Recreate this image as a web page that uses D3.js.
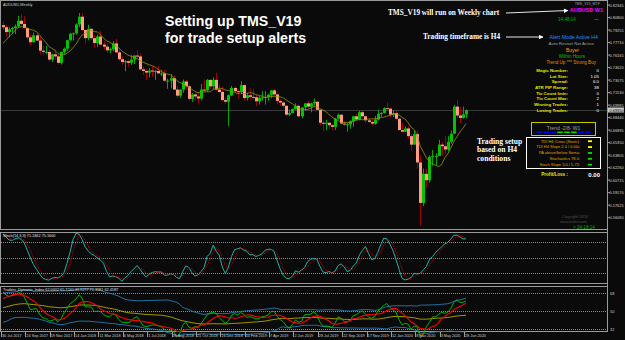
<!DOCTYPE html>
<html>
<head>
<meta charset="utf-8">
<title>AUDUSD Weekly - TMS_V19</title>
<script src="https://cdn.jsdelivr.net/npm/d3@7"></script>
<style>
  body { margin: 0; background: #0a0a0a; }
  svg { display: block; }
  text { font-family: "Liberation Sans", Arial, sans-serif; }
  .serif { font-family: "Liberation Serif", "Times New Roman", serif; font-weight: bold; fill: #fff; }
</style>
</head>
<body>
<svg id="chart" width="625" height="340"></svg>
<script>

// AUDUSD weekly bars, one per week from 30 Jul 2017 to 28 Jun 2020
var firstWeek = new Date(2017, 6, 30);

var closes = [
  0.7960, 0.7900, 0.7935, 0.7950, 0.7970, 0.8040, 0.8000, 0.7950, 0.7835, 0.7775,
  0.7860, 0.7795, 0.7670, 0.7655, 0.7655, 0.7560, 0.7625, 0.7600, 0.7520, 0.7655,
  0.7695, 0.7800, 0.7880, 0.7885, 0.7995, 0.8090, 0.7925, 0.7825, 0.7940, 0.7825,
  0.7765, 0.7845, 0.7745, 0.7720, 0.7675, 0.7690, 0.7760, 0.7650, 0.7565, 0.7530,
  0.7540, 0.7520, 0.7560, 0.7610, 0.7600, 0.7440, 0.7420, 0.7400, 0.7425, 0.7420,
  0.7420, 0.7390, 0.7390, 0.7300, 0.7300, 0.7330, 0.7190, 0.7115, 0.7190, 0.7290,
  0.7230, 0.7075, 0.7130, 0.7105, 0.7080, 0.7190, 0.7180, 0.7310, 0.7230, 0.7310,
  0.7190, 0.7160, 0.7060, 0.7040, 0.7120, 0.7210, 0.7170, 0.7160, 0.7245, 0.7085,
  0.7120, 0.7100, 0.7095, 0.7045, 0.7090, 0.7095, 0.7100, 0.7125, 0.7180, 0.7130,
  0.7050, 0.7030, 0.6990, 0.6880, 0.6900, 0.6950, 0.6990, 0.6860, 0.6970, 0.7020,
  0.6980, 0.7020, 0.7040, 0.6940, 0.6780, 0.6770, 0.6780, 0.6750, 0.6730, 0.6830,
  0.6880, 0.6770, 0.6760, 0.6760, 0.6800, 0.6860, 0.6820, 0.6910, 0.6860, 0.6810,
  0.6790, 0.6770, 0.6820, 0.6890, 0.6900, 0.6960, 0.6955, 0.6880, 0.6900, 0.6830,
  0.6690, 0.6670, 0.6710, 0.6615, 0.6510, 0.6640, 0.6290, 0.5790, 0.6150, 0.6070,
  0.6360, 0.6370, 0.6370, 0.6510, 0.6490, 0.6450, 0.6545, 0.6645, 0.6980, 0.6870,
  0.6840, 0.6885, 0.6935
];

var highs = [
  0.8030, 0.7990, 0.7960, 0.7965, 0.7995, 0.8100, 0.8125, 0.8100, 0.7960, 0.7870,
  0.7895, 0.7885, 0.7845, 0.7730, 0.7730, 0.7685, 0.7635, 0.7675, 0.7620, 0.7660,
  0.7710, 0.7805, 0.7890, 0.7895, 0.8005, 0.8136, 0.8135, 0.7935, 0.7990, 0.7950,
  0.7865, 0.7870, 0.7915, 0.7790, 0.7760, 0.7710, 0.7790, 0.7815, 0.7690, 0.7600,
  0.7555, 0.7560, 0.7615, 0.7615, 0.7675, 0.7635, 0.7475, 0.7445, 0.7455, 0.7485,
  0.7435, 0.7485, 0.7435, 0.7435, 0.7325, 0.7380, 0.7365, 0.7235, 0.7195, 0.7315,
  0.7310, 0.7250, 0.7150, 0.7150, 0.7160, 0.7260, 0.7315, 0.7320, 0.7310, 0.7340,
  0.7395, 0.7250, 0.7230, 0.7090, 0.7130, 0.7235, 0.7230, 0.7195, 0.7295, 0.7255,
  0.7145, 0.7205, 0.7200, 0.7120, 0.7110, 0.7170, 0.7170, 0.7140, 0.7185, 0.7205,
  0.7155, 0.7070, 0.7045, 0.6995, 0.6940, 0.6955, 0.7020, 0.6995, 0.6975, 0.7025,
  0.7050, 0.7030, 0.7080, 0.7045, 0.6945, 0.6810, 0.6815, 0.6790, 0.6760, 0.6840,
  0.6895, 0.6880, 0.6805, 0.6780, 0.6810, 0.6865, 0.6890, 0.6930, 0.6930, 0.6870,
  0.6840, 0.6815, 0.6865, 0.6940, 0.6915, 0.6970, 0.7030, 0.6965, 0.6935, 0.6925,
  0.6840, 0.6775, 0.6735, 0.6735, 0.6640, 0.6685, 0.6685, 0.6380, 0.6215, 0.6215,
  0.6375, 0.6445, 0.6405, 0.6570, 0.6545, 0.6615, 0.6615, 0.6685, 0.7000, 0.7065,
  0.6975, 0.6980, 0.6945
];

var lows = [
  0.7925, 0.7845, 0.7835, 0.7880, 0.7875, 0.7950, 0.7980, 0.7940, 0.7810, 0.7735,
  0.7770, 0.7780, 0.7625, 0.7625, 0.7625, 0.7530, 0.7530, 0.7560, 0.7500, 0.7500,
  0.7620, 0.7665, 0.7790, 0.7795, 0.7870, 0.7960, 0.7915, 0.7760, 0.7800, 0.7800,
  0.7710, 0.7715, 0.7740, 0.7680, 0.7645, 0.7640, 0.7660, 0.7640, 0.7545, 0.7500,
  0.7415, 0.7475, 0.7495, 0.7505, 0.7575, 0.7430, 0.7370, 0.7310, 0.7340, 0.7350,
  0.7310, 0.7380, 0.7355, 0.7290, 0.7200, 0.7205, 0.7185, 0.7085, 0.7085, 0.7150,
  0.7200, 0.7050, 0.7040, 0.7050, 0.7020, 0.7055, 0.7160, 0.7165, 0.7200, 0.7195,
  0.7175, 0.7150, 0.7045, 0.7015, 0.6740, 0.7110, 0.7150, 0.7080, 0.7135, 0.7055,
  0.7055, 0.7070, 0.7070, 0.6985, 0.7005, 0.7055, 0.7005, 0.7050, 0.7085, 0.7110,
  0.7010, 0.6990, 0.6960, 0.6865, 0.6865, 0.6900, 0.6940, 0.6850, 0.6835, 0.6930,
  0.6960, 0.6910, 0.6990, 0.6920, 0.6750, 0.6675, 0.6690, 0.6700, 0.6690, 0.6690,
  0.6820, 0.6755, 0.6740, 0.6670, 0.6705, 0.6730, 0.6810, 0.6810, 0.6850, 0.6775,
  0.6780, 0.6755, 0.6755, 0.6810, 0.6855, 0.6895, 0.6950, 0.6850, 0.6850, 0.6815,
  0.6685, 0.6660, 0.6665, 0.6585, 0.6435, 0.6510, 0.6215, 0.5506, 0.5750, 0.5980,
  0.6040, 0.6250, 0.6255, 0.6370, 0.6370, 0.6400, 0.6430, 0.6520, 0.6640, 0.6830,
  0.6775, 0.6830, 0.6835
];

// weekly closes before the first bar, only used to warm up the indicators
var priorCloses = [
  0.7370, 0.7390, 0.7430, 0.7460, 0.7500, 0.7610, 0.7480, 0.7600, 0.7610, 0.7660,
  0.7660, 0.7570, 0.7520, 0.7520, 0.7480, 0.7630, 0.7650, 0.7580, 0.7630, 0.7600,
  0.7610, 0.7670, 0.7570, 0.7370, 0.7400, 0.7440, 0.7470, 0.7330, 0.7230, 0.7210,
  0.7300, 0.7470, 0.7550, 0.7550, 0.7670, 0.7670, 0.7670, 0.7700, 0.7590, 0.7570,
  0.7715, 0.7630, 0.7640, 0.7500, 0.7575, 0.7550, 0.7470, 0.7380, 0.7380, 0.7455,
  0.7430, 0.7455, 0.7545, 0.7605, 0.7560, 0.7685, 0.7610, 0.7770, 0.7920, 0.7985
];

var lastPrice = 0.6935;

// axis labels
var priceTicks = [0.82345, 0.80800, 0.79255, 0.77710, 0.76165, 0.74620, 0.73075, 0.71530,
  0.69985, 0.68440, 0.66895, 0.65350, 0.63805, 0.62260, 0.60715, 0.59170, 0.57625, 0.56080];
var dateLabels = ["30 Jul 2017", "24 Sep 2017", "19 Nov 2017", "14 Jan 2018", "11 Mar 2018",
  "6 May 2018", "1 Jul 2018", "26 Aug 2018", "21 Oct 2018", "16 Dec 2018", "10 Feb 2019",
  "7 Apr 2019", "2 Jun 2019", "28 Jul 2019", "22 Sep 2019", "17 Nov 2019", "12 Jan 2020",
  "8 Mar 2020", "3 May 2020", "28 Jun 2020"];
var stochLevels = [80, 50, 20];
var tdiLevels = [68, 50, 32];

// info panel of the expert advisor
var statLabels = ["Magic Number:", "Lot Size:", "Spread:", "ATR PIP Range:",
  "Tic Count Imin:", "Tic Count Max:", "Winning Trades:", "Losing Trades:"];
var statValues = ["0", "1.05", "6.0", "38", "0", "2", "1", "0"];
var setupLabels = ["TDI H4 Cross (Static):", "TDI H4 Slope 2.0 / 0.00c", "PA above/below Sema:",
  "Stochastics 78.0:", "Stoch Slope 3.0 / 5.72:"];
var setupColors = ["#ffff00", "#ffff00", "#00e000", "#00e000", "#00e000"];
var trendColors = ["#0000ff", "#0000ff", "#0000ff", "#00e000", "#00e000", "#00e000", "#0000ff", "#0000ff"];


function drawChart() {

    var width = 625,
        height = 340,
        plotRight = 607;

    var svg = d3.select("#chart");

    svg.append("rect")
        .attr("width", width)
        .attr("height", height)
        .attr("fill", "#0a0a0a");

    // join the warm-up closes with the visible bars
    var all = priorCloses.concat(closes),
        allHigh = priorCloses.concat(highs),
        allLow = priorCloses.concat(lows),
        n0 = priorCloses.length;

    function windowOf(arr, i, len) {
        return arr.slice(Math.max(0, i - len + 1), i + 1);
    }

    var bars = closes.map(function(c, i) {
        return {
            date: d3.timeWeek.offset(firstWeek, i),
            open: all[n0 + i - 1],
            high: highs[i],
            low: lows[i],
            close: c
        };
    });

    // indicators, worked out from the bars like the terminal does
    var maLine = bars.map(function(d, i) {
        return { date: d.date, v: d3.mean(windowOf(all, n0 + i, 8)) };
    });

    var kRaw = all.map(function(c, i) {
        var hh = d3.max(windowOf(allHigh, i, 14)),
            ll = d3.min(windowOf(allLow, i, 14));
        return { num: c - ll, den: hh - ll };
    });
    var stochMain = all.map(function(c, i) {
        var w = windowOf(kRaw, i, 3);
        return 100 * d3.sum(w, function(d) { return d.num; }) / d3.sum(w, function(d) { return d.den; });
    });
    var stochSignal = all.map(function(c, i) { return d3.mean(windowOf(stochMain, i, 3)); });

    var rsi = [50], ag = 0, al = 0;
    for (var i = 1; i < all.length; i++) {
        var ch = all[i] - all[i - 1],
            g = Math.max(ch, 0),
            l = Math.max(-ch, 0);
        if (i <= 13) { ag += g / 13; al += l / 13; }
        else { ag = (ag * 12 + g) / 13; al = (al * 12 + l) / 13; }
        rsi.push(al === 0 ? 100 : 100 - 100 / (1 + ag / al));
    }

    var tdi = bars.map(function(d, i) {
        var j = n0 + i,
            w = windowOf(rsi, j, 34),
            base = d3.mean(w),
            dev = d3.deviation(w);
        return {
            date: d.date,
            up: base + 1.6185 * dev,
            dn: base - 1.6185 * dev,
            base: base,
            price: d3.mean(windowOf(rsi, j, 2)),
            signal: d3.mean(windowOf(rsi, j, 7))
        };
    });

    var stoch = bars.map(function(d, i) {
        return { date: d.date, main: stochMain[n0 + i], signal: stochSignal[n0 + i] };
    });

    // scales
    var x = d3.scaleTime()
        .domain([firstWeek, bars[bars.length - 1].date])
        .range([3, 466]);

    var y = d3.scaleLinear()
        .domain([0.82345, 0.54805])
        .range([5, 228]);

    var yStoch = d3.scaleLinear()
        .domain([0, 100])
        .range([283, 232]);

    var yTdi = d3.scaleLinear()
        .domain([30, 75])
        .range([331, 286]);

    // panel frames
    var frames = [[0, 229], [232, 283], [286, 331]];
    svg.selectAll("rect.frame")
        .data(frames).enter()
        .append("rect")
        .attr("class", "frame")
        .attr("x", 0.5)
        .attr("y", function(d) { return d[0] + 0.5; })
        .attr("width", plotRight)
        .attr("height", function(d) { return d[1] - d[0]; })
        .attr("fill", "none")
        .attr("stroke", "#9a9a9a")
        .attr("stroke-width", 1);

    // current price line
    svg.append("line")
        .attr("x1", 1).attr("x2", plotRight)
        .attr("y1", Math.round(y(lastPrice)) + 0.5)
        .attr("y2", Math.round(y(lastPrice)) + 0.5)
        .attr("stroke", "#3a3a3a");

    // candles
    var main = svg.append("g");

    main.selectAll("line.wick")
        .data(bars).enter()
        .append("line")
        .attr("class", "wick")
        .attr("x1", function(d) { return Math.round(x(d.date)) + 0.5; })
        .attr("x2", function(d) { return Math.round(x(d.date)) + 0.5; })
        .attr("y1", function(d) { return y(d.high); })
        .attr("y2", function(d) { return y(d.low); })
        .attr("stroke", function(d) { return d.close >= d.open ? "#00a800" : "#a00000"; })
        .attr("stroke-width", 1);

    main.selectAll("rect.body")
        .data(bars).enter()
        .append("rect")
        .attr("class", "body")
        .attr("x", function(d) { return Math.round(x(d.date)) - 1; })
        .attr("width", 3)
        .attr("y", function(d) { return y(Math.max(d.open, d.close)); })
        .attr("height", function(d) { return Math.max(1, Math.abs(y(d.open) - y(d.close))); })
        .attr("fill", function(d) { return d.close >= d.open ? "#00c400" : "#ff9c84"; });

    var maPath = d3.line()
        .x(function(d) { return x(d.date); })
        .y(function(d) { return y(d.v); });

    main.append("path")
        .datum(maLine)
        .attr("d", maPath)
        .attr("fill", "none")
        .attr("stroke", "#9c9400")
        .attr("stroke-width", 0.8);

    // right price axis
    svg.append("line")
        .attr("x1", plotRight + 0.5).attr("x2", plotRight + 0.5)
        .attr("y1", 0).attr("y2", 332)
        .attr("stroke", "#9a9a9a");

    var ticks = svg.append("g");
    ticks.selectAll("line")
        .data(priceTicks).enter()
        .append("line")
        .attr("x1", plotRight).attr("x2", plotRight + 3)
        .attr("y1", function(d) { return y(d); })
        .attr("y2", function(d) { return y(d); })
        .attr("stroke", "#9a9a9a");
    ticks.selectAll("text")
        .data(priceTicks).enter()
        .append("text")
        .attr("x", plotRight + 2.5)
        .attr("y", function(d) { return y(d) + 1.5; })
        .attr("font-size", 3.9)
        .attr("fill", "#d0d0d0")
        .text(function(d) { return d.toFixed(5); });

    var lp = Math.round(y(lastPrice));
    svg.append("rect")
        .attr("x", plotRight + 1).attr("y", lp - 2.5)
        .attr("width", 16).attr("height", 5)
        .attr("fill", "#c8c8c8");
    svg.append("text")
        .attr("x", plotRight + 2.5).attr("y", lp + 1.5)
        .attr("font-size", 3.9)
        .attr("fill", "#000")
        .text(lastPrice.toFixed(5));

    // stochastic window
    svg.selectAll("line.slevel")
        .data(stochLevels).enter()
        .append("line")
        .attr("class", "slevel")
        .attr("x1", 1).attr("x2", plotRight)
        .attr("y1", function(d) { return Math.round(yStoch(d)) + 0.5; })
        .attr("y2", function(d) { return Math.round(yStoch(d)) + 0.5; })
        .attr("stroke", "#8a8a8a")
        .attr("stroke-dasharray", "1,1");

    svg.append("path")
        .datum(stoch)
        .attr("d", d3.line().x(function(d) { return x(d.date); }).y(function(d) { return yStoch(d.main); }))
        .attr("fill", "none")
        .attr("stroke", "#20b2aa")
        .attr("stroke-width", 1);

    svg.append("path")
        .datum(stoch)
        .attr("d", d3.line().x(function(d) { return x(d.date); }).y(function(d) { return yStoch(d.signal); }))
        .attr("fill", "none")
        .attr("stroke", "#e00000")
        .attr("stroke-width", 0.9)
        .attr("stroke-dasharray", "1,1");

    svg.append("text")
        .attr("x", 3).attr("y", 237)
        .attr("font-size", 3.8)
        .attr("fill", "#e0e0e0")
        .text("Stoch(14,3,3) 71.2462 75.1600");

    // traders dynamic index window
    svg.selectAll("line.tlevel")
        .data(tdiLevels).enter()
        .append("line")
        .attr("class", "tlevel")
        .attr("x1", 1).attr("x2", plotRight)
        .attr("y1", function(d) { return Math.round(yTdi(d)) + 0.5; })
        .attr("y2", function(d) { return Math.round(yTdi(d)) + 0.5; })
        .attr("stroke", "#8a8a8a")
        .attr("stroke-dasharray", "1,1");

    var tdiSeries = [
        ["up", "#1f7fb8", 0.9], ["dn", "#1f7fb8", 0.9], ["base", "#b8a800", 0.9],
        ["price", "#00c800", 0.9], ["signal", "#ff0000", 1.1]
    ];
    tdiSeries.forEach(function(s) {
        svg.append("path")
            .datum(tdi)
            .attr("d", d3.line().x(function(d) { return x(d.date); }).y(function(d) { return yTdi(d[s[0]]); }))
            .attr("fill", "none")
            .attr("stroke", s[1])
            .attr("stroke-width", s[2]);
    });

    svg.append("text")
        .attr("x", 3).attr("y", 290.5)
        .attr("font-size", 3.8)
        .attr("fill", "#e0e0e0")
        .text("Traders_Dynamic_Index 62.0002 65.7240 39.9277 71.3181 62.4187");

    svg.selectAll("text.tlab")
        .data(tdiLevels).enter()
        .append("text")
        .attr("class", "tlab")
        .attr("x", plotRight + 3)
        .attr("y", function(d) { return yTdi(d) + 1.5; })
        .attr("font-size", 3.9)
        .attr("fill", "#d0d0d0")
        .text(function(d) { return d; });

    // date axis
    var parseDate = d3.timeParse("%d %b %Y");
    var dates = svg.append("g");
    dates.selectAll("line")
        .data(dateLabels).enter()
        .append("line")
        .attr("x1", function(d) { return Math.round(x(parseDate(d))) - 1.5; })
        .attr("x2", function(d) { return Math.round(x(parseDate(d))) - 1.5; })
        .attr("y1", 332).attr("y2", 337)
        .attr("stroke", "#9a9a9a");
    dates.selectAll("text")
        .data(dateLabels).enter()
        .append("text")
        .attr("x", function(d) { return x(parseDate(d)) - 1; })
        .attr("y", 337)
        .attr("font-size", 3.8)
        .attr("fill", "#d0d0d0")
        .text(function(d) { return d; });

    drawOverlay(svg);
}


function drawOverlay(svg) {

    svg.append("text")
        .attr("x", 3).attr("y", 6)
        .attr("font-size", 3.8)
        .attr("fill", "#d0d0d0")
        .text("AUDUSD,Weekly");

    // headline
    svg.append("text")
        .attr("x", 165).attr("y", 26)
        .attr("font-size", 14.2)
        .attr("font-weight", "bold")
        .attr("fill", "#fff")
        .text("Setting up TMS_V19");
    svg.append("text")
        .attr("x", 165).attr("y", 43)
        .attr("font-size", 14.2)
        .attr("font-weight", "bold")
        .attr("fill", "#fff")
        .text("for trade setup alerts");

    // notes with arrows
    var defs = svg.append("defs");
    defs.append("marker")
        .attr("id", "head")
        .attr("viewBox", "0 0 10 10")
        .attr("refX", 9).attr("refY", 5)
        .attr("markerWidth", 6).attr("markerHeight", 5)
        .attr("orient", "auto")
        .append("path")
        .attr("d", "M0,0 L10,5 L0,10 z")
        .attr("fill", "#fff");

    svg.append("text").attr("class", "serif")
        .attr("x", 388).attr("y", 15)
        .attr("font-size", 7.3)
        .text("TMS_V19 will run on Weekly chart");
    svg.append("line")
        .attr("x1", 506).attr("y1", 13).attr("x2", 568).attr("y2", 10.5)
        .attr("stroke", "#fff").attr("stroke-width", 0.9)
        .attr("marker-end", "url(#head)");

    svg.append("text").attr("class", "serif")
        .attr("x", 423).attr("y", 39)
        .attr("font-size", 7.3)
        .text("Trading timeframe is H4");
    svg.append("line")
        .attr("x1", 506).attr("y1", 37).attr("x2", 543).attr("y2", 37)
        .attr("stroke", "#fff").attr("stroke-width", 0.9)
        .attr("marker-end", "url(#head)");

    svg.append("text").attr("class", "serif")
        .attr("x", 477).attr("y", 143.5)
        .attr("font-size", 7.6)
        .text("Trading setup");
    svg.append("text").attr("class", "serif")
        .attr("x", 477).attr("y", 152)
        .attr("font-size", 7.6)
        .text("based on H4");
    svg.append("text").attr("class", "serif")
        .attr("x", 477).attr("y", 160.5)
        .attr("font-size", 7.6)
        .text("conditions");

    // status block, right aligned on the chart
    var status = [
        ["TMS_V19_MTF", 5, "#a0a0a0", 3.6, "normal", 600],
        ["AUDUSD W1", 12, "#ff00ff", 5.5, "bold", 603],
        ["Alert Mode Active H4", 39, "#1e90ff", 5.2, "normal", 598],
        ["Auto Restart Not Active", 45, "#a0a0a0", 4.4, "normal", 594],
        ["Buyer", 52, "#ff9900", 5, "normal", 579],
        ["Within Hours", 58, "#00c000", 4.6, "normal", 585],
        ["Trend Up *** Strong Buy", 64, "#e09000", 4.6, "normal", 596]
    ];
    svg.selectAll("text.status")
        .data(status).enter()
        .append("text")
        .attr("class", "status")
        .attr("x", function(d) { return d[5]; })
        .attr("y", function(d) { return d[1]; })
        .attr("text-anchor", "end")
        .attr("font-size", function(d) { return d[3]; })
        .attr("font-weight", function(d) { return d[4]; })
        .attr("fill", function(d) { return d[2]; })
        .text(function(d) { return d[0]; });

    svg.append("text")
        .attr("x", 558).attr("y", 21)
        .attr("font-size", 4.6)
        .attr("fill", "#00b000")
        .text("14:48:14");
    svg.append("text")
        .attr("x", 594).attr("y", 21)
        .attr("font-size", 4.6)
        .attr("fill", "#c8c800")
        .text("---");

    // statistics
    var rowY = d3.scaleLinear().domain([0, statLabels.length - 1]).range([72, 111.5]);
    svg.selectAll("text.slabel")
        .data(statLabels).enter()
        .append("text")
        .attr("class", "slabel")
        .attr("x", 568)
        .attr("y", function(d, i) { return rowY(i); })
        .attr("text-anchor", "end")
        .attr("font-size", 4.4)
        .attr("font-weight", "bold")
        .attr("fill", "#e8e800")
        .text(function(d) { return d; });
    svg.selectAll("text.svalue")
        .data(statValues).enter()
        .append("text")
        .attr("class", "svalue")
        .attr("x", 599)
        .attr("y", function(d, i) { return rowY(i); })
        .attr("text-anchor", "end")
        .attr("font-size", 4.4)
        .attr("fill", "#fff")
        .text(function(d) { return d; });

    // trend box
    svg.append("rect")
        .attr("x", 531.5).attr("y", 122.5)
        .attr("width", 64).attr("height", 13)
        .attr("fill", "#0a0a0a")
        .attr("stroke", "#c8c800");
    svg.append("text")
        .attr("x", 563.5).attr("y", 129.5)
        .attr("text-anchor", "middle")
        .attr("font-size", 5)
        .attr("fill", "#a0a0a0")
        .text("Trend -2/8- W1");
    var seg = d3.scaleBand().domain(d3.range(trendColors.length)).range([535, 592]).padding(0.2);
    svg.selectAll("rect.seg")
        .data(trendColors).enter()
        .append("rect")
        .attr("class", "seg")
        .attr("x", function(d, i) { return seg(i); })
        .attr("y", 131.5)
        .attr("width", seg.bandwidth())
        .attr("height", 1.6)
        .attr("fill", function(d) { return d; });

    // setup box
    svg.append("rect")
        .attr("x", 526.5).attr("y", 137.5)
        .attr("width", 74).attr("height", 31)
        .attr("fill", "#0a0a0a")
        .attr("stroke", "#fff");
    var setY = d3.scaleLinear().domain([0, setupLabels.length - 1]).range([142.5, 166]);
    svg.selectAll("text.setup")
        .data(setupLabels).enter()
        .append("text")
        .attr("class", "setup")
        .attr("x", 580)
        .attr("y", function(d, i) { return setY(i); })
        .attr("text-anchor", "end")
        .attr("font-size", 4)
        .attr("fill", "#e0a000")
        .text(function(d) { return d; });
    svg.selectAll("rect.flag")
        .data(setupColors).enter()
        .append("rect")
        .attr("class", "flag")
        .attr("x", 588)
        .attr("y", function(d, i) { return setY(i) - 2.2; })
        .attr("width", 4).attr("height", 1.8)
        .attr("fill", function(d) { return d; });

    svg.append("text")
        .attr("x", 568).attr("y", 176)
        .attr("text-anchor", "end")
        .attr("font-size", 4.6)
        .attr("font-weight", "bold")
        .attr("fill", "#e8e800")
        .text("Profit/Loss :");
    svg.append("text")
        .attr("x", 600).attr("y", 176.5)
        .attr("text-anchor", "end")
        .attr("font-size", 6)
        .attr("font-weight", "bold")
        .attr("fill", "#fff")
        .text("0.00");

    // copyright and timer at the bottom corner
    svg.append("text")
        .attr("x", 562).attr("y", 218)
        .attr("font-size", 3.6)
        .attr("font-style", "italic")
        .attr("fill", "#505050")
        .text("Copyright\u00a92016");
    svg.append("text")
        .attr("x", 560).attr("y", 223)
        .attr("font-size", 3.6)
        .attr("font-style", "italic")
        .attr("fill", "#505050")
        .text("www.traderr.com");
    svg.append("text")
        .attr("x", 573).attr("y", 228.5)
        .attr("font-size", 4.6)
        .attr("fill", "#00b000")
        .text("> 24:18:14");
}

drawChart();
</script>
</body>
</html>
